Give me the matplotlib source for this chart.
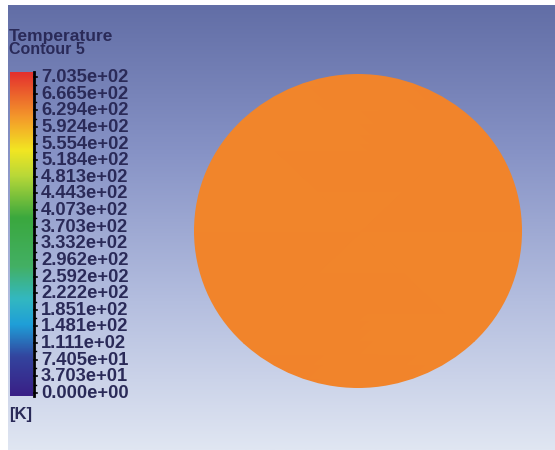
import numpy as np
import matplotlib.pyplot as plt
from matplotlib.colors import LinearSegmentedColormap, Normalize
from matplotlib.patches import Ellipse

# contour levels shown on the legend (K)
levels = [0.0, 37.03, 74.05, 111.1, 148.1, 185.1, 222.2, 259.2, 296.2, 333.2,
          370.3, 407.3, 444.3, 481.3, 518.4, 555.4, 592.4, 629.4, 666.5, 703.5]
level_labels = ["0.000e+00", "3.703e+01", "7.405e+01", "1.111e+02", "1.481e+02",
                "1.851e+02", "2.222e+02", "2.592e+02", "2.962e+02", "3.332e+02",
                "3.703e+02", "4.073e+02", "4.443e+02", "4.813e+02", "5.184e+02",
                "5.554e+02", "5.924e+02", "6.294e+02", "6.665e+02", "7.035e+02"]
# temperature on the face (nearly uniform)
face_temp = [[622.0, 624.0], [626.0, 623.0]]

# fluent-like rainbow
cmap = LinearSegmentedColormap.from_list("fluent", [
    (0.00, "#3a1f86"), (0.12, "#33449e"), (0.22, "#1f9fd8"), (0.30, "#33b8c0"),
    (0.40, "#43b064"), (0.55, "#3aa83e"), (0.68, "#b8d838"), (0.76, "#f2e622"),
    (0.86, "#f49a2a"), (1.00, "#e4302e")])
norm = Normalize(levels[0], levels[-1])

plt.rcParams["font.family"] = ["Liberation Sans", "DejaVu Sans"]

fig = plt.figure(figsize=(5.55, 4.5), dpi=100)
ax = fig.add_axes([0, 0, 1, 1])
ax.set_xlim(0, 555)
ax.set_ylim(450, 0)
ax.axis("off")

# background gradient
bg = LinearSegmentedColormap.from_list("bg", ["#626ea6", "#8793c6", "#b4bedf", "#e0e6f2"])
grad = np.linspace(0, 1, 256).reshape(-1, 1)
ax.imshow(grad, cmap=bg, extent=(8, 555, 450, 5), aspect="auto", zorder=0)

# the face
xs = np.linspace(190, 530, 2)
ys = np.linspace(70, 395, 2)
mesh = ax.pcolormesh(xs, ys, np.array(face_temp), cmap=cmap, norm=norm,
                     shading="gouraud", zorder=2)
clip = Ellipse((358, 231), 328, 314, transform=ax.transData, facecolor="none",
               edgecolor="none")
ax.add_patch(clip)
mesh.set_clip_path(clip)

# colour bar
bar = np.linspace(1, 0, 256).reshape(-1, 1)
ax.imshow(bar, cmap=cmap, extent=(10, 33, 396, 72), aspect="auto", zorder=3)
ax.plot([34, 34], [72, 396], color="black", lw=2, zorder=4)

txt = "#2a2a58"
ypos = np.linspace(393, 77, len(levels))
for y, lab in zip(ypos, level_labels):
    ax.plot([34, 37], [y, y], color="black", lw=1.2, zorder=4)
    ax.text(41, y + 0.5, lab, fontsize=13.2, fontweight="bold", color=txt,
            va="center", ha="left", zorder=5)
# extra minor ticks
for y in (ypos[:-1] + ypos[1:]) / 2:
    ax.plot([34, 36], [y, y], color="black", lw=1, zorder=4)

ax.text(9, 36, "Temperature", fontsize=12.5, fontweight="bold", color=txt,
        va="center", ha="left")
ax.text(9, 50, "Contour 5", fontsize=11.5, fontweight="bold", color=txt,
        va="center", ha="left")
ax.text(9, 415, "[K]", fontsize=12, fontweight="bold", color=txt,
        va="center", ha="left")

fig.savefig("out.png", dpi=100)
